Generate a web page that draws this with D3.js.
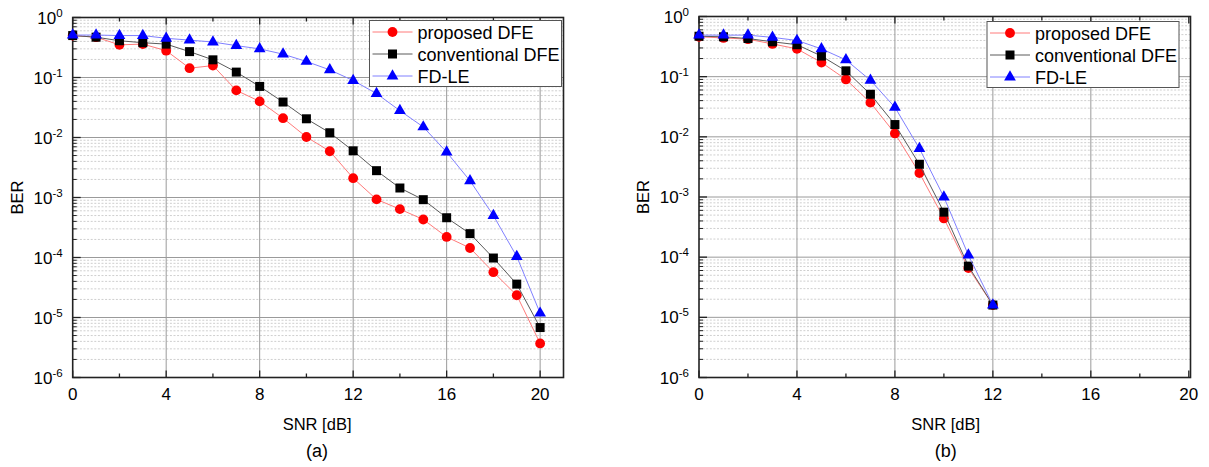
<!DOCTYPE html>
<html>
<head>
<meta charset="utf-8">
<script src="https://cdn.jsdelivr.net/npm/d3@7"></script>
<style>
  body { margin: 0; background: #fff; }
  text { font-family: "Liberation Sans", Arial, sans-serif; fill: #000; }
</style>
</head>
<body>
<svg id="chart"></svg>
<script>
// ---- data ----
const snrA = [0, 1, 2, 3, 4, 5, 6, 7, 8, 9, 10, 11, 12, 13, 14, 15, 16, 17, 18, 19, 20];
const proposedA = [0.50, 0.47, 0.35, 0.36, 0.28, 0.143, 0.158, 0.061, 0.040, 0.021, 0.0102, 0.0059, 0.0021,
    0.00093, 0.00064, 0.00043, 0.00022, 0.000144, 0.000057, 0.0000235, 0.0000037];
const conventionalA = [0.50, 0.47, 0.41, 0.38, 0.36, 0.27, 0.197, 0.123, 0.071, 0.039, 0.0205, 0.012, 0.006,
    0.0028, 0.00144, 0.00092, 0.00046, 0.00025, 0.000098, 0.000036, 0.0000068];
const fdleA = [0.51, 0.51, 0.50, 0.50, 0.45, 0.42, 0.39, 0.34, 0.30, 0.245, 0.185, 0.134, 0.089,
    0.054, 0.028, 0.015, 0.0057, 0.0019, 0.00050, 0.000104, 0.0000118];

const snrB = [0, 1, 2, 3, 4, 5, 6, 7, 8, 9, 10, 11, 12];
const proposedB = [0.46, 0.44, 0.42, 0.35, 0.29, 0.172, 0.090, 0.037, 0.0114, 0.0025, 0.00044, 0.000066, 0.000016];
const conventionalB = [0.47, 0.46, 0.43, 0.38, 0.34, 0.22, 0.125, 0.051, 0.016, 0.0035, 0.00056, 0.000071, 0.000016];
const fdleB = [0.49, 0.49, 0.49, 0.45, 0.40, 0.29, 0.19, 0.087, 0.031, 0.0064, 0.0010, 0.000108, 0.000016];

const seriesNames = ["proposed DFE", "conventional DFE", "FD-LE"];
const xTickValues = [0, 4, 8, 12, 16, 20];
const yExponents = [0, -1, -2, -3, -4, -5, -6];
const panelLabels = ["(a)", "(b)"];

const W = 1209, H = 467;
const svg = d3.select("#chart").attr("width", W).attr("height", H);

// styles per series: marker, line colour, fill colour
const styles = [
    { shape: d3.symbolCircle, size: 76, line: "#ff7a7a", fill: "#ff0000" },
    { shape: d3.symbolSquare, size: 81, line: "#5a5a5a", fill: "#000000" },
    { shape: d3.symbolTriangle, size: 60, line: "#8080ff", fill: "#0000ff" }
];

function drawPanel(p) {
    const g = svg.append("g");

    const x = d3.scaleLinear().domain(p.xDomain).range([p.left, p.right]);
    const y = d3.scaleLog().domain([1e-6, 1]).range([p.bottom, p.top]);

    // minor grid (log 2..9)
    const minor = [];
    for (let e = -6; e < 0; e++) for (let m = 2; m <= 9; m++) minor.push(m * Math.pow(10, e));
    g.selectAll(".gminor").data(minor).enter().append("line")
        .attr("x1", p.left).attr("x2", p.right)
        .attr("y1", d => y(d)).attr("y2", d => y(d))
        .attr("stroke", "#cfcfcf").attr("stroke-width", 1)
        .attr("stroke-dasharray", "2,1.6");

    // major grid
    g.selectAll(".gmajy").data(yExponents.slice(1, -1)).enter().append("line")
        .attr("x1", p.left).attr("x2", p.right)
        .attr("y1", d => y(Math.pow(10, d))).attr("y2", d => y(Math.pow(10, d)))
        .attr("stroke", "#9a9a9a").attr("stroke-width", 1);
    g.selectAll(".gmajx").data(xTickValues.filter(d => d > 0 && x(d) < p.right - 3)).enter().append("line")
        .attr("x1", d => x(d)).attr("x2", d => x(d))
        .attr("y1", p.top).attr("y2", p.bottom)
        .attr("stroke", "#9a9a9a").attr("stroke-width", 1);

    // ticks, bottom and top, pointing inward
    const xMinor = [2, 6, 10, 14, 18];
    [[p.bottom, -1], [p.top, 1]].forEach(([yy, dir]) => {
        g.selectAll(null).data(xTickValues).enter().append("line")
            .attr("x1", d => x(d)).attr("x2", d => x(d))
            .attr("y1", yy).attr("y2", yy + dir * 7)
            .attr("stroke", "#222").attr("stroke-width", 1.3);
        g.selectAll(null).data(xMinor).enter().append("line")
            .attr("x1", d => x(d)).attr("x2", d => x(d))
            .attr("y1", yy).attr("y2", yy + dir * 4)
            .attr("stroke", "#222").attr("stroke-width", 1.3);
    });
    // left ticks
    g.selectAll(null).data(yExponents).enter().append("line")
        .attr("x1", p.left).attr("x2", p.left + 8)
        .attr("y1", d => y(Math.pow(10, d))).attr("y2", d => y(Math.pow(10, d)))
        .attr("stroke", "#222").attr("stroke-width", 1.3);
    g.selectAll(null).data(minor).enter().append("line")
        .attr("x1", p.left).attr("x2", p.left + 4)
        .attr("y1", d => y(d)).attr("y2", d => y(d))
        .attr("stroke", "#222").attr("stroke-width", 1);

    // frame
    g.append("rect")
        .attr("x", p.left).attr("y", p.top)
        .attr("width", p.right - p.left).attr("height", p.bottom - p.top)
        .attr("fill", "none").attr("stroke", "#222").attr("stroke-width", 1.6);

    // tick labels
    g.selectAll(null).data(xTickValues).enter().append("text")
        .attr("x", d => x(d)).attr("y", p.bottom + 22)
        .attr("text-anchor", "middle").style("font-size", "17px")
        .text(d => d);

    const yl = g.selectAll(null).data(yExponents).enter().append("text")
        .attr("x", p.left - 10).attr("y", d => y(Math.pow(10, d)) + 6)
        .attr("text-anchor", "end").style("font-size", "17px");
    yl.append("tspan").text("10");
    yl.append("tspan").attr("dy", -7).style("font-size", "11.5px").text(d => d);

    // axis titles
    g.append("text")
        .attr("x", (p.left + p.right) / 2 + p.titleShift).attr("y", 430)
        .attr("text-anchor", "middle").style("font-size", "16.5px")
        .text("SNR [dB]");
    g.append("text")
        .attr("x", (p.left + p.right) / 2 + p.titleShift).attr("y", 457)
        .attr("text-anchor", "middle").style("font-size", "18px")
        .text(p.label);
    g.append("text")
        .attr("transform", `translate(${p.left - 50},${(p.top + p.bottom) / 2}) rotate(-90)`)
        .attr("text-anchor", "middle").style("font-size", "16.5px")
        .text("BER");

    // series: lines then markers
    p.series.forEach((vals, i) => {
        const pts = p.snr.map((s, k) => ({ s: s, v: vals[k] }));
        const line = d3.line().x(d => x(d.s)).y(d => y(d.v));
        g.append("path").datum(pts)
            .attr("fill", "none").attr("stroke", styles[i].line).attr("stroke-width", 1)
            .attr("d", line);
        g.selectAll(null).data(pts).enter().append("path")
            .attr("transform", d => `translate(${x(d.s)},${y(d.v)})`)
            .attr("d", d3.symbol().type(styles[i].shape).size(styles[i].size)())
            .attr("fill", styles[i].fill);
    });

    // legend
    const lg = g.append("g").attr("transform", `translate(${p.legX},${p.legY})`);
    lg.append("rect").attr("width", 192).attr("height", 66)
        .attr("fill", "#fff").attr("stroke", "#555").attr("stroke-width", 1);
    seriesNames.forEach((name, i) => {
        const cy = 11.5 + i * 22;
        lg.append("line").attr("x1", 3).attr("x2", 43).attr("y1", cy).attr("y2", cy)
            .attr("stroke", styles[i].line).attr("stroke-width", 1);
        lg.append("path").attr("transform", `translate(23,${cy})`)
            .attr("d", d3.symbol().type(styles[i].shape).size(styles[i].size)())
            .attr("fill", styles[i].fill);
        lg.append("text").attr("x", 48).attr("y", cy + 6.5)
            .style("font-size", "18px").text(name);
    });
}

drawPanel({
    left: 72.7, right: 563.5, top: 17.5, bottom: 377.5, xDomain: [0, 21],
    snr: snrA, series: [proposedA, conventionalA, fdleA],
    legX: 369.5, legY: 20.5, label: panelLabels[0], titleShift: -1
});
drawPanel({
    left: 699, right: 1190.5, top: 16.5, bottom: 377.5, xDomain: [0, 20.07],
    snr: snrB, series: [proposedB, conventionalB, fdleB],
    legX: 987, legY: 21.5, label: panelLabels[1], titleShift: 1
});
</script>
</body>
</html>
